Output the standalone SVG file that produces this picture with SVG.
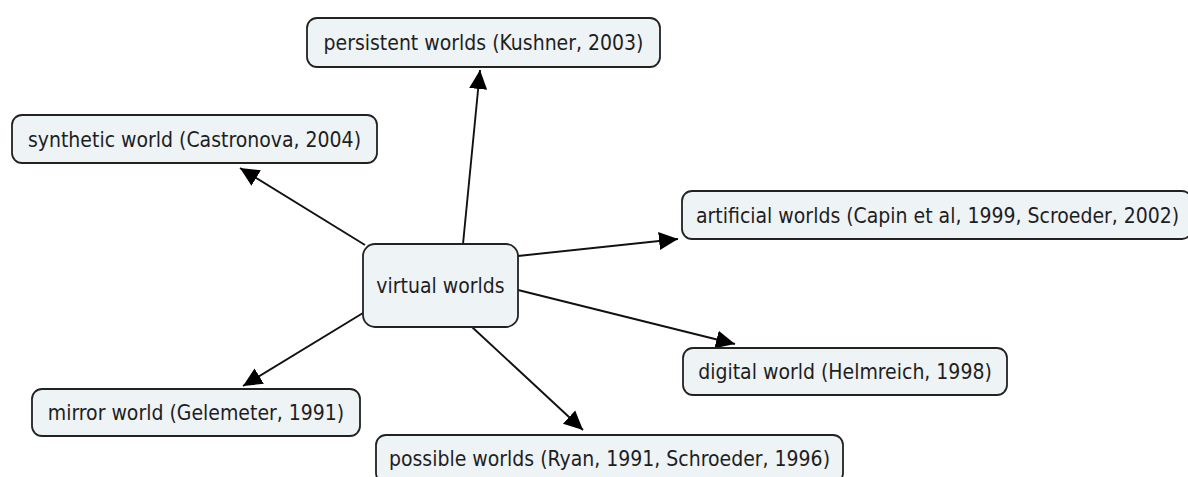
<svg xmlns="http://www.w3.org/2000/svg" width="1188" height="477" viewBox="0 0 1188 477">
<style>
.box{fill:#eef3f6;stroke:#222;stroke-width:1.8}
.lbl{font-family:"DejaVu Sans Condensed","DejaVu Sans",Verdana,sans-serif;font-stretch:condensed;font-size:21px;fill:#1e1e1e}
.mid{text-anchor:middle}
.edge{stroke:#111;stroke-width:1.9;fill:none;marker-end:url(#arr)}
</style>
<defs>
<marker id="arr" markerUnits="userSpaceOnUse" markerWidth="20" markerHeight="20" viewBox="0 0 20 20" refX="19" refY="10" orient="auto">
<path d="M0,1 L19,10 L0,19 Z" fill="#000"/>
</marker>
</defs>
<rect width="1188" height="477" fill="#fff"/>
<g id="connectors">
<line class="edge" x1="463" y1="244" x2="480" y2="70"/>
<line class="edge" x1="365" y1="245" x2="240" y2="168"/>
<line class="edge" x1="518" y1="256" x2="678" y2="239"/>
<line class="edge" x1="518" y1="290" x2="735" y2="344"/>
<line class="edge" x1="363" y1="313" x2="243" y2="386"/>
<line class="edge" x1="472" y1="327" x2="583" y2="430"/>
</g>
<g id="node-virtual">
<rect class="box" x="363" y="244" width="155" height="83" rx="12"/>
<text class="lbl mid" x="440.5" y="293">virtual worlds</text>
</g>
<g id="node-persistent">
<rect class="box" x="307" y="18" width="353" height="49" rx="10"/>
<text class="lbl mid" x="483.5" y="50">persistent worlds (Kushner, 2003)</text>
</g>
<g id="node-synthetic">
<rect class="box" x="12" y="115" width="365" height="48" rx="10"/>
<text class="lbl mid" x="194.5" y="146.5">synthetic world (Castronova, 2004)</text>
</g>
<g id="node-artificial">
<rect class="box" x="682" y="191" width="510" height="48" rx="10"/>
<text class="lbl" x="696" y="222.5">artificial worlds (Capin et al, 1999, Scroeder, 2002)</text>
</g>
<g id="node-digital">
<rect class="box" x="683" y="348" width="324" height="47" rx="10"/>
<text class="lbl mid" x="845" y="379">digital world (Helmreich, 1998)</text>
</g>
<g id="node-mirror">
<rect class="box" x="32" y="389" width="328" height="47" rx="10"/>
<text class="lbl mid" x="196" y="420">mirror world (Gelemeter, 1991)</text>
</g>
<g id="node-possible">
<rect class="box" x="376" y="435" width="467" height="48" rx="10"/>
<text class="lbl mid" x="609.5" y="465.5">possible worlds (Ryan, 1991, Schroeder, 1996)</text>
</g>
</svg>
